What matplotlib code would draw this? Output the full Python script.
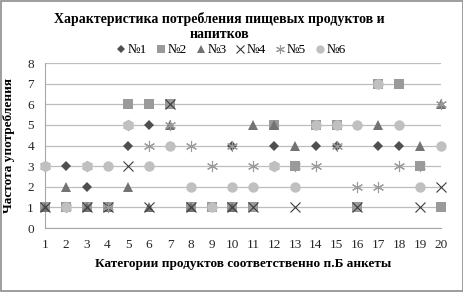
import numpy as np
import matplotlib
matplotlib.use("Agg")
import matplotlib.pyplot as plt

plt.rcParams['font.family'] = ['Liberation Serif', 'DejaVu Serif']

nan = np.nan
categories = list(range(1, 21))

s1 = [1, 3, 2, nan, 4, 5, nan, 1, nan, 4, nan, 4, nan, 4, 4, nan, 4, 4, nan, nan]
s2 = [1, 1, 1, 1, 6, 6, 6, 1, 1, 1, 1, 5, 3, 5, 5, 1, 7, 7, 3, 1]
s3 = [1, 2, 1, 1, 2, 1, 5, 1, nan, 1, 5, 5, 4, nan, nan, nan, 5, nan, 4, 6]
s4 = [1, nan, 1, 1, 3, 1, 6, 1, nan, 1, 1, nan, 1, nan, nan, 1, nan, nan, 1, 2]
s5 = [3, 1, 3, 1, 5, 4, 5, 4, 3, 4, 3, 3, 3, 3, 4, 2, 2, 3, 3, 6]
s6 = [3, 1, 3, 3, 5, 3, 4, 2, 1, 2, 2, 3, 2, 5, 5, 5, 7, 5, 2, 4]

names = ['№1', '№2', '№3', '№4', '№5', '№6']
series = [s1, s2, s3, s4, s5, s6]

title = 'Характеристика потребления пищевых продуктов и\nнапитков'
xlabel = 'Категории продуктов соответственно п.Б анкеты'
ylabel = 'Частота употребления'

styles = [
    dict(marker='D', color='#4f4f4f', ms=5.5, mew=0),
    dict(marker='s', color='#9a9a9a', ms=7, mew=0),
    dict(marker='^', color='#737373', ms=7.5, mew=0),
    dict(marker='x', color='#3c3c3c', ms=7, mew=0.8),
    dict(marker=(6, 2, 0), color='#9a9a9a', ms=8, mew=0.8),
    dict(marker='o', color='#c0c0c0', ms=7.5, mew=0),
]

fig = plt.figure(figsize=(4.64, 2.92), dpi=100)
ax = fig.add_axes([0.097, 0.219, 0.853, 0.565])

for vals, name, st in zip(series, names, styles):
    ax.plot(categories, vals, linestyle='none', label=name, clip_on=False,
            zorder=3, **st)

ax.set_xlim(1, 20)
ax.set_ylim(0, 8)
ax.set_xticks(categories)
ax.set_yticks(range(0, 9))
ax.yaxis.grid(True, color='#bdbdbd', linewidth=0.9)
ax.set_axisbelow(True)
for side in ['top', 'right']:
    ax.spines[side].set_visible(False)
ax.spines['left'].set_color('#a6a6a6')
ax.spines['bottom'].set_color('#a6a6a6')
ax.tick_params(length=0, labelsize=9.5, pad=8, colors='#262626')

ax.set_xlabel(xlabel, fontsize=9.5, fontweight='bold', labelpad=5)
ax.set_ylabel(ylabel, fontsize=9.5, fontweight='bold', labelpad=9)

fig.text(0.472, 0.91, title, ha='center', va='center', fontsize=10,
         fontweight='bold', linespacing=1.15)

ax.legend(loc='lower center', bbox_to_anchor=(0.47, 1.0), ncol=6,
          frameon=False, fontsize=9.5, handlelength=0.7, handletextpad=0.15,
          columnspacing=0.7, borderaxespad=0.1, markerscale=0.8)

fig.patches.append(plt.Rectangle((0.002, 0.004), 0.995, 0.992,
                                 transform=fig.transFigure, fill=False,
                                 edgecolor='#8c8c8c', linewidth=1.2))

fig.savefig('out.png', dpi=100)
